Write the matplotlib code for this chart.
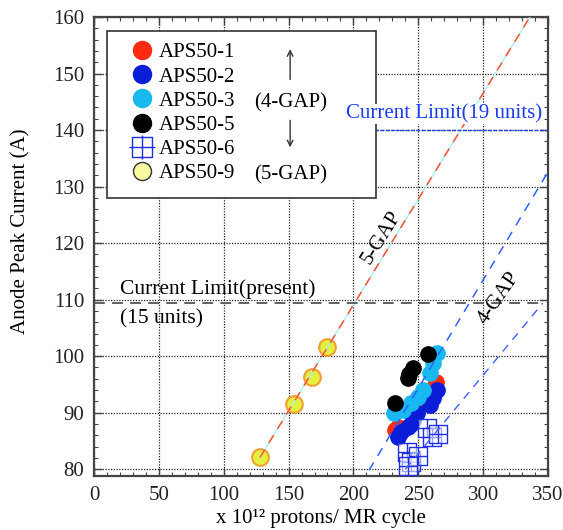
import matplotlib
matplotlib.use("Agg")
import matplotlib.pyplot as plt
from matplotlib.path import Path
from matplotlib.lines import Line2D
from matplotlib.patches import Rectangle
from matplotlib.ticker import MultipleLocator

plt.rcParams['font.family'] = ['Liberation Serif', 'DejaVu Serif']

# ---------------- data ----------------
aps1_x = [264, 262, 250, 247, 234, 232]
aps1_y = [95.5, 94.5, 91.6, 90.6, 87.5, 87.0]

aps2_x = [264.5, 261, 259, 249, 246, 242, 237, 234, 244]
aps2_y = [94.0, 92.6, 91.3, 89.9, 88.7, 87.4, 86.5, 85.7, 88.0]

aps3_x = [264.5, 261, 259, 254, 250, 244, 238, 231]
aps3_y = [100.5, 98.8, 97.0, 94.0, 92.7, 91.7, 90.4, 89.9]

aps5_x = [257.5, 246, 243, 242, 232]
aps5_y = [100.4, 97.9, 96.8, 96.1, 91.7]

aps6_x = [241.3, 244.4, 249.8, 242.0, 256.7, 260.6, 265.2]
aps6_y = [83.0, 81.2, 82.3, 80.6, 87.3, 85.7, 86.2]

aps9_x = [128, 154, 168, 180]
aps9_y = [82.1, 91.5, 96.3, 101.6]

# guide lines (end points)
gap5_x = [128, 336]
gap5_y = [82.1, 160]
gap4_hi_x = [212, 350]
gap4_hi_y = [79.8, 132.6]
gap4_lo_x = [240, 346]
gap4_lo_y = [80.0, 109.4]

limit_present = 109.4
limit_present_x = [0, 346]
limit_19 = 140.0
limit_19_x = [217, 350]

labels = ["APS50-1", "APS50-2", "APS50-3", "APS50-5", "APS50-6", "APS50-9"]
x_ticks = [0, 50, 100, 150, 200, 250, 300, 350]
y_ticks = [80, 90, 100, 110, 120, 130, 140, 150, 160]

# ---------------- styles ----------------
c_red = '#ff2a10'
c_blue = '#0a1ed8'
c_cyan = '#18b8f0'
c_black = '#000000'
c_sq = '#2030e0'

# square-with-cross markers
plot_sq = Path([(-1, -1), (1, -1), (1, 1), (-1, 1), (-1, -1),
                (-1, 0), (1, 0), (0, -1), (0, 1)],
               [Path.MOVETO, Path.LINETO, Path.LINETO, Path.LINETO, Path.CLOSEPOLY,
                Path.MOVETO, Path.LINETO, Path.MOVETO, Path.LINETO])
leg_sq = Path([(-0.75, -0.75), (0.75, -0.75), (0.75, 0.75), (-0.75, 0.75), (-0.75, -0.75),
               (-1.0, 0.0), (1.0, 0.0), (0.0, -0.9), (0.0, 0.9)],
              [Path.MOVETO, Path.LINETO, Path.LINETO, Path.LINETO, Path.CLOSEPOLY,
               Path.MOVETO, Path.LINETO, Path.MOVETO, Path.LINETO])

fig = plt.figure(figsize=(5.63, 5.30), dpi=100)
ax = fig.add_axes([94 / 563, 1 - 476 / 530, 454 / 563, 459 / 530])

ax.set_xlim(0, 350)
ax.set_ylim(78.8, 160)

# grid
ax.set_xticks(x_ticks)
ax.set_yticks(y_ticks)
ax.xaxis.set_minor_locator(MultipleLocator(10))
ax.yaxis.set_minor_locator(MultipleLocator(2))
ax.grid(True, which='major', color='#222222', linestyle=(0, (1, 1.2)), linewidth=0.9)
ax.set_axisbelow(True)

ms = 11
ax.plot(aps1_x, aps1_y, 'o', color=c_red, markersize=ms, mec=c_red, zorder=3)
ax.plot(aps2_x, aps2_y, 'o', color=c_blue, markersize=ms, mec=c_blue, zorder=3.1)
ax.plot(aps3_x, aps3_y, 'o', color=c_cyan, markersize=ms, mec=c_cyan, zorder=3.2)
ax.plot(aps5_x, aps5_y, 'o', color=c_black, markersize=ms, mec=c_black, zorder=3.3)
ax.plot(aps9_x, aps9_y, 'o', color='#e4f040', markersize=12, mec='#f0a030', mew=1.5, zorder=3.4)

ax.plot(aps6_x, aps6_y, linestyle='none', marker=plot_sq, markersize=13.5,
        mfc=(1, 1, 1, 0.55), mec=c_sq, mew=1.0, zorder=3.5)

# lines
ax.plot(gap5_x, gap5_y, color='#a8f0f8', lw=1.0, zorder=4)
ax.plot(gap5_x, gap5_y, color='#ff5030', lw=1.1, dashes=(6, 5), zorder=4.1)
ax.plot(gap4_hi_x, gap4_hi_y, color='#3060ff', lw=1.1, dashes=(6, 5), zorder=4.1)
ax.plot(gap4_lo_x, gap4_lo_y, color='#4060ff', lw=1.0, dashes=(6, 5), zorder=4.1)
ax.plot(limit_present_x, [limit_present] * 2, color='#555555', lw=1.3, dashes=(6, 4), zorder=4)
ax.plot(limit_19_x, [limit_19] * 2, color='#1f3ff0', lw=1.0, dashes=(2.5, 1.2), zorder=4)

# text annotations
ax.text(20, 111.8, "Current Limit(present)", fontsize=15.5, ha='left', va='center', zorder=6)
ax.text(20, 106.6, "(15 units)", fontsize=15.5, ha='left', va='center', zorder=6)
ax.text(194, 142.8, "Current Limit(19 units)", fontsize=15, color='#1a3cf0',
        ha='left', va='center', zorder=9,
        bbox=dict(facecolor='white', edgecolor='none', pad=0.5))
ax.text(222, 121, "5-GAP", fontsize=15, rotation=58, ha='center', va='center', zorder=6)
ax.text(312, 110.3, "4-GAP", fontsize=15, rotation=55, ha='center', va='center', zorder=6)

# legend
handles = [
    Line2D([], [], marker='o', linestyle='none', color=c_red, markersize=13),
    Line2D([], [], marker='o', linestyle='none', color=c_blue, markersize=13),
    Line2D([], [], marker='o', linestyle='none', color=c_cyan, markersize=13),
    Line2D([], [], marker='o', linestyle='none', color=c_black, markersize=13),
    Line2D([], [], marker=leg_sq, linestyle='none', mfc='none', mec=c_sq, markersize=19, mew=1.0),
    Line2D([], [], marker='o', linestyle='none', mfc='#f8f8a0', mec='#333333', markersize=13, mew=1.0),
]
leg = ax.legend(handles, labels, loc='upper left', bbox_to_anchor=(0.045, 0.980),
                frameon=False, fontsize=15, labelspacing=0.22, handlelength=1.0,
                handletextpad=0.35, borderpad=0.3)
leg.set_zorder(8)
ax.add_patch(Rectangle((0.029, 0.606), 0.592, 0.363, transform=ax.transAxes,
                       facecolor='white', edgecolor='#333333', lw=1.2, zorder=7))
ax.text(0.432, 0.813, "(4-GAP)", transform=ax.transAxes, fontsize=15,
        ha='center', va='center', zorder=8)
ax.text(0.432, 0.655, "(5-GAP)", transform=ax.transAxes, fontsize=15,
        ha='center', va='center', zorder=8)
ax.annotate("", xy=(0.432, 0.936), xytext=(0.432, 0.858), xycoords='axes fraction',
            arrowprops=dict(arrowstyle='->', color='#333333', lw=1.0), zorder=8)
ax.annotate("", xy=(0.432, 0.710), xytext=(0.432, 0.781), xycoords='axes fraction',
            arrowprops=dict(arrowstyle='->', color='#333333', lw=1.0), zorder=8)

# axes styling
for s in ax.spines.values():
    s.set_color('#444444')
    s.set_linewidth(1.6)
ax.tick_params(which='both', direction='in', top=True, right=True, colors='#444444',
               labelcolor='#222222')
ax.tick_params(which='major', length=6, width=1.0, labelsize=15, pad=7)
ax.tick_params(which='minor', length=3, width=0.8)

ax.set_xlabel("x 10\u00b9\u00b2 protons/ MR cycle", fontsize=15, labelpad=3)
ax.set_ylabel("Anode Peak Current (A)", fontsize=15)
ax.yaxis.set_label_coords(-0.141, 0.534)

fig.savefig("out.png", dpi=100)
